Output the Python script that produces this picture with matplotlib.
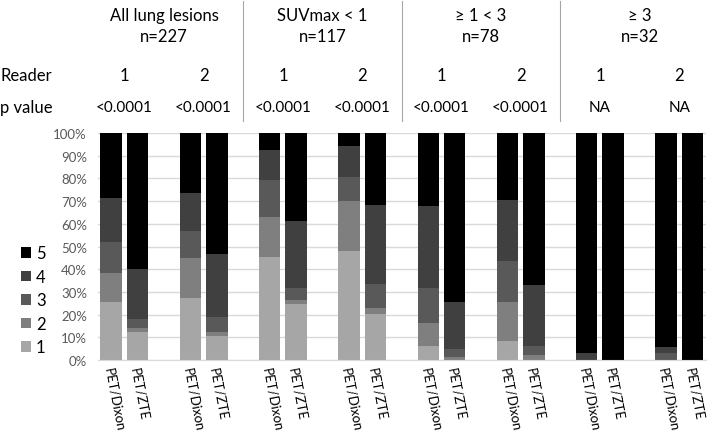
import matplotlib
matplotlib.use('Agg')
import matplotlib.pyplot as plt
import matplotlib.transforms as mtransforms
from matplotlib.lines import Line2D
import numpy as np

plt.rcParams['font.family'] = ['Lato', 'DejaVu Sans']

# group headers
groups = ['All lung lesions', 'SUVmax < 1', '\u2265 1 < 3', '\u2265 3']
group_n = ['n=227', 'n=117', 'n=78', 'n=32']
readers = ['1', '2', '1', '2', '1', '2', '1', '2']
pvalues = ['<0.0001', '<0.0001', '<0.0001', '<0.0001', '<0.0001', '<0.0001', 'NA', 'NA']
methods = ['PET/Dixon', 'PET/ZTE'] * 8

# share of lesions (%) per score, one entry per bar
score1 = [25.7, 12.5, 27.5, 10.4, 45.2, 24.7, 47.9, 20.3, 6.0, 0.0, 8.5, 0.0, 0.0, 0.0, 0.0, 0.0]
score2 = [12.6, 1.5, 17.4, 2.1, 17.9, 1.7, 22.3, 2.6, 10.3, 1.2, 16.9, 2.3, 0.0, 0.0, 0.0, 0.0]
score3 = [13.5, 4.1, 11.9, 6.6, 16.3, 5.3, 10.3, 10.6, 15.4, 3.6, 18.1, 3.7, 0.0, 0.0, 2.9, 0.0]
score4 = [19.4, 22.0, 16.9, 27.4, 13.1, 29.7, 13.9, 34.9, 36.0, 20.6, 27.0, 27.2, 3.1, 0.0, 3.0, 0.0]
score5 = [28.8, 59.9, 26.3, 53.5, 7.5, 38.6, 5.6, 31.6, 32.3, 74.6, 29.5, 66.8, 96.9, 100.0, 94.1, 100.0]

scores = [score1, score2, score3, score4, score5]
score_labels = ['1', '2', '3', '4', '5']
colors = ['#a6a6a6', '#7f7f7f', '#595959', '#404040', '#000000']

# bar slots: pair, gap, pair, gap ...
pos = []
for g in range(8):
    pos += [g * 3, g * 3 + 1]
pos = np.array(pos)

fig = plt.figure(figsize=(7.08, 4.35), dpi=100)
ax = fig.add_axes([0.1384, 0.170, 0.8582, 0.522])

bottom = np.zeros(len(pos))
handles = []
for vals, c, lab in zip(scores, colors, score_labels):
    b = ax.bar(pos, vals, bottom=bottom, width=0.81, color=c, label=lab, zorder=2)
    handles.append(b)
    bottom += np.array(vals)

ax.set_xlim(-0.5, 22.5)
ax.set_ylim(0, 100)
ax.set_yticks(np.arange(0, 101, 10))
ax.set_yticklabels(['%d%%' % v for v in range(0, 101, 10)], color='#595959', fontsize=9.5)
ax.yaxis.grid(True, color='#d9d9d9', linewidth=1, zorder=0)
ax.set_axisbelow(True)
for s in ['left', 'right', 'top']:
    ax.spines[s].set_visible(False)
ax.spines['bottom'].set_color('#d9d9d9')
ax.tick_params(axis='both', length=0)
ax.tick_params(axis='y', pad=8)

ax.set_xticks(pos)
ax.set_xticklabels(methods, rotation=-79, ha='left', va='center', rotation_mode='anchor', fontsize=9.5)
ax.tick_params(axis='x', pad=5)
shift = mtransforms.ScaledTranslation(-2.5 / 72, 0, fig.dpi_scale_trans)
for lbl in ax.get_xticklabels():
    lbl.set_transform(lbl.get_transform() + shift)

# header rows
trans = mtransforms.blended_transform_factory(ax.transData, fig.transFigure)
for i in range(4):
    xc = i * 6 + 2
    ax.text(xc, 0.963, groups[i], transform=trans, ha='center', va='center', fontsize=12)
    ax.text(xc, 0.916, group_n[i], transform=trans, ha='center', va='center', fontsize=12)
for i in range(8):
    xc = i * 3 + 0.5
    ax.text(xc, 0.825, readers[i], transform=trans, ha='center', va='center', fontsize=12)
    ax.text(xc, 0.752, pvalues[i], transform=trans, ha='center', va='center', fontsize=11)
fig.text(0.0, 0.825, 'Reader', ha='left', va='center', fontsize=12)
fig.text(0.0, 0.752, 'p value', ha='left', va='center', fontsize=12)

for xs in [5, 11, 17]:
    fig.add_artist(Line2D([xs, xs], [0.995, 0.72], transform=trans, color='#a6a6a6', linewidth=0.8))

fig.legend(handles[::-1], score_labels[::-1], loc='center left', bbox_to_anchor=(0.018, 0.307),
           frameon=False, fontsize=12, handlelength=0.6, handleheight=0.6,
           handletextpad=0.3, labelspacing=0.45, borderpad=0)

fig.savefig('out.png', dpi=100)
